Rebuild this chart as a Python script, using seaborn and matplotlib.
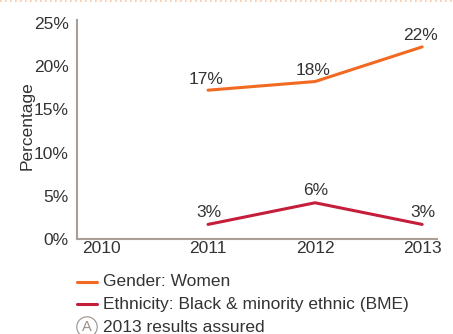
import pandas as pd
import seaborn as sns
import matplotlib.pyplot as plt
from matplotlib.lines import Line2D

years = [2010, 2011, 2012, 2013]
women = [17.2, 18.2, 22.2]
bme = [1.7, 4.2, 1.7]
women_labels = ["17%", "18%", "22%"]
bme_labels = ["3%", "6%", "3%"]
series_years = [2011, 2012, 2013]
yticks = [0, 5, 10, 15, 20, 25]

orange = "#F26A21"
red = "#C41E3A"
axis_col = "#A99F97"
text_col = "#333333"
fs = 12.5

df = pd.DataFrame({
    "year": series_years * 2,
    "value": women + bme,
    "series": ["Gender: Women"] * 3 + ["Ethnicity: Black & minority ethnic (BME)"] * 3,
})

sns.set_style("white")
plt.rcParams['font.family'] = ['Liberation Sans', 'DejaVu Sans']

fig = plt.figure(figsize=(4.53, 3.34), dpi=100)
ax = fig.add_axes([0.170, 0.284, 0.795, 0.656])

sns.lineplot(data=df, x="year", y="value", hue="series",
             palette=[orange, red], linewidth=2.2, legend=False, ax=ax)

for x, y, lab in zip(series_years, women, women_labels):
    ax.annotate(lab, (x, y), xytext=(-2, 11), textcoords="offset pixels",
                ha="center", va="center", fontsize=fs, color=text_col)
for x, y, lab in zip(series_years, bme, bme_labels):
    ax.annotate(lab, (x, y), xytext=(1, 12), textcoords="offset pixels",
                ha="center", va="center", fontsize=fs, color=text_col)

ax.set_xlim(2009.776, 2013.14)
ax.set_ylim(0, 25.3)
ax.set_xticks(years)
ax.set_xticklabels([str(y) for y in years])
ax.set_yticks(yticks)
ax.set_yticklabels([f"{t}%" for t in yticks])
ax.tick_params(axis="both", length=0, labelsize=fs, colors=text_col)
ax.tick_params(axis="y", pad=6)
ax.tick_params(axis="x", pad=1)
ax.set_xlabel("")
ax.set_ylabel("Percentage", fontsize=fs, color=text_col)
ax.yaxis.set_label_coords(-0.119, 0.52)

for s in ["top", "right"]:
    ax.spines[s].set_visible(False)
for s in ["left", "bottom"]:
    ax.spines[s].set_color(axis_col)
    ax.spines[s].set_linewidth(1.5)

# dotted rule at top
fig.add_artist(Line2D([0, 1], [0.996, 0.996], color="#F7C59F",
                      linestyle=(0, (1, 2)), linewidth=1.2))

# legend drawn manually below the axes
W, H = 453, 334
for ypx, col, lab in [(282, orange, "Gender: Women"),
                      (304, red, "Ethnicity: Black & minority ethnic (BME)")]:
    fig.add_artist(Line2D([77 / W, 97 / W], [1 - ypx / H, 1 - ypx / H],
                          color=col, linewidth=2.2))
    fig.text(103 / W, 1 - ypx / H, lab, ha="left", va="center",
             fontsize=fs, color=text_col)
fig.text(87 / W, 1 - 327 / H, "A", ha="center", va="center", fontsize=10.5,
         color="#9A918A",
         bbox=dict(boxstyle="circle,pad=0.22", fc="none", ec="#9A918A", lw=0.8))
fig.text(103 / W, 1 - 327 / H, "2013 results assured", ha="left", va="center",
         fontsize=fs, color=text_col)

fig.savefig("out.png", dpi=100)
